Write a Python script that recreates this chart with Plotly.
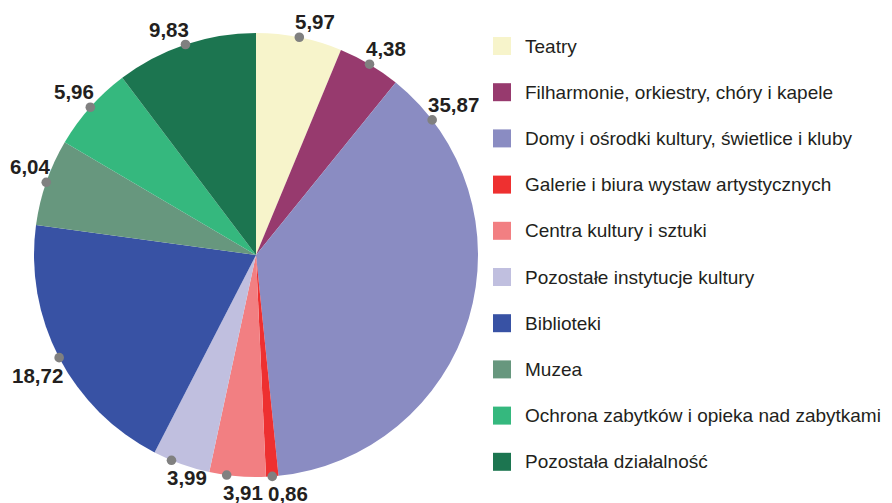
import math
import plotly.graph_objects as go

categories = [
    "Teatry",
    "Filharmonie, orkiestry, chóry i kapele",
    "Domy i ośrodki kultury, świetlice i kluby",
    "Galerie i biura wystaw artystycznych",
    "Centra kultury i sztuki",
    "Pozostałe instytucje kultury",
    "Biblioteki",
    "Muzea",
    "Ochrona zabytków i opieka nad zabytkami",
    "Pozostała działalność",
]
values = [5.97, 4.38, 35.87, 0.86, 3.91, 3.99, 18.72, 6.04, 5.96, 9.83]
colors = ["#f7f4cb", "#973a6e", "#8a8cc2", "#ee3030", "#f27f82",
          "#c0bfdf", "#3852a4", "#67977e", "#35b87e", "#1c7550"]
# where the label dot sits inside each slice (0 = start, 1 = end)
dot_frac = [0.5, 0.5, 0.1, 0.5, 0.69, 0.68, 0.5, 0.5, 0.5, 0.5]

W, H = 892, 503
CX, CY, R = 248, 247, 222
TXT = "#231f20"
FONT = "Liberation Sans, Arial, sans-serif"

fig = go.Figure()
fig.add_trace(go.Pie(
    labels=categories, values=values, sort=False, direction="clockwise",
    rotation=0, marker=dict(colors=colors, line=dict(width=0)),
    textinfo="none", showlegend=False,
    domain=dict(x=[(CX - R) / W, (CX + R) / W],
                y=[(H - CY - R) / H, (H - CY + R) / H]),
))

total = sum(values)
annotations, shapes = [], []
cum = 0.0
for v, f in zip(values, dot_frac):
    ang = (cum + v * f) / total * 2 * math.pi
    cum += v
    x = CX + R * math.sin(ang)
    y = CY - R * math.cos(ang)
    # grey dot on the rim, drawn above the pie
    shapes.append(dict(
        type="circle", layer="above", xref="x", yref="y",
        xsizemode="pixel", ysizemode="pixel", xanchor=x, yanchor=y,
        x0=-4.8, x1=4.8, y0=-4.8, y1=4.8,
        fillcolor="#808080", line=dict(width=0),
    ))
    deg = math.degrees(ang)
    upper = math.cos(ang) > 0
    right_anchor = 210 < deg < 360
    annotations.append(dict(
        x=x + (6 if right_anchor else -6),
        y=y - 15.5 if upper else y + 17.5,
        xref="x", yref="y", showarrow=False,
        xanchor="right" if right_anchor else "left", yanchor="middle",
        text=f"{v:.2f}".replace(".", ","),
        font=dict(family=FONT, size=20.5, color=TXT, weight="bold"),
    ))

# manual legend
LX, LY0, LDY = 494, 38, 46.2
ly = [LY0 + i * LDY for i in range(len(categories))]
fig.add_trace(go.Scatter(
    x=[LX] * len(categories), y=ly, mode="markers", showlegend=False,
    hoverinfo="skip",
    marker=dict(symbol="square", size=18, color=colors, line=dict(width=0)),
))
for c, yy in zip(categories, ly):
    annotations.append(dict(
        x=LX + 21, y=yy, xref="x", yref="y", showarrow=False,
        xanchor="left", yanchor="middle", text=c,
        font=dict(family=FONT, size=19, color=TXT),
    ))

fig.update_layout(
    width=W, height=H, margin=dict(l=0, r=0, t=0, b=0),
    paper_bgcolor="white", plot_bgcolor="rgba(0,0,0,0)",
    xaxis=dict(range=[0, W], visible=False, domain=[0, 1], fixedrange=True),
    yaxis=dict(range=[H, 0], visible=False, domain=[0, 1], fixedrange=True),
    annotations=annotations, shapes=shapes,
)
fig.write_html("out.html")
